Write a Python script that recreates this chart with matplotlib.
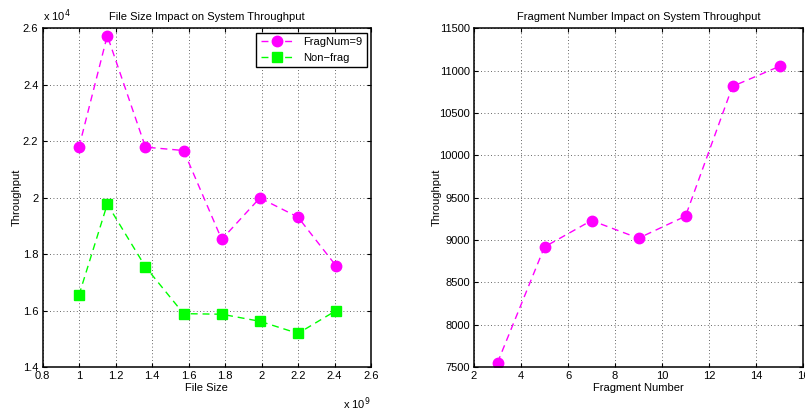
import matplotlib
matplotlib.use("Agg")
import matplotlib.pyplot as plt
from matplotlib.ticker import FuncFormatter

plt.rcParams['font.family'] = ['Liberation Sans Narrow', 'Liberation Sans', 'DejaVu Sans']

# left panel: file size vs throughput
file_size = [1.0e9, 1.155e9, 1.364e9, 1.573e9, 1.782e9, 1.991e9, 2.2e9, 2.409e9]
frag9_tp = [21790, 25740, 21790, 21670, 18520, 19990, 19310, 17580]
nonfrag_tp = [16550, 19770, 17550, 15890, 15870, 15620, 15190, 16000]

# right panel: fragment number vs throughput
frag_num = [3, 5, 7, 9, 11, 13, 15]
frag_tp = [7551, 8918, 9230, 9021, 9281, 10814, 11051]

left_xticks = [0.8e9, 1.0e9, 1.2e9, 1.4e9, 1.6e9, 1.8e9, 2.0e9, 2.2e9, 2.4e9, 2.6e9]
left_yticks = [14000, 16000, 18000, 20000, 22000, 24000, 26000]
right_xticks = [2, 4, 6, 8, 10, 12, 14, 16]
right_yticks = [7500, 8000, 8500, 9000, 9500, 10000, 10500, 11000, 11500]

MAG = '#ff00ff'
GRN = '#00ff00'
FS = 8
DASH = (0, (5, 3.5))


def style_axes(ax):
    ax.grid(True, linestyle=(0, (1, 3)), color='black', linewidth=0.6, alpha=0.8)
    ax.tick_params(direction='in', top=True, right=True, labelsize=FS, length=3, width=0.8, pad=3)
    for s in ax.spines.values():
        s.set_linewidth(1.1)


fig = plt.figure(figsize=(8.05, 4.13), dpi=100)
W, H = 805, 413

ax1 = fig.add_axes([42.5 / W, (H - 367) / H, (371 - 42.5) / W, (367 - 28.3) / H])
ax1.plot(file_size, frag9_tp, linestyle=DASH, color=MAG, marker='o', markersize=7.5, lw=1, label='FragNum=9')
ax1.plot(file_size, nonfrag_tp, linestyle=DASH, color=GRN, marker='s', markersize=6.5, lw=1, label='Non\u2212frag')
ax1.set_xlim(0.8e9, 2.6e9)
ax1.set_ylim(14000, 26000)
ax1.set_xticks(left_xticks)
ax1.set_yticks(left_yticks)
ax1.xaxis.set_major_formatter(FuncFormatter(lambda v, p: '%g' % round(v / 1e9, 2)))
ax1.yaxis.set_major_formatter(FuncFormatter(lambda v, p: '%g' % round(v / 1e4, 2)))
style_axes(ax1)
ax1.set_title('File Size Impact on System Throughput', fontsize=FS, pad=6)
ax1.set_xlabel('File Size', fontsize=FS, labelpad=1)
ax1.set_ylabel('Throughput', fontsize=FS, labelpad=1)
ax1.text(0.0, 1.012, 'x 10$^4$', transform=ax1.transAxes, fontsize=FS, ha='left', va='bottom')
ax1.text(1.0, -0.085, 'x 10$^9$', transform=ax1.transAxes, fontsize=FS, ha='right', va='top')
leg = ax1.legend(loc='upper right', fontsize=FS, frameon=True, fancybox=False,
                 borderaxespad=0.4, handlelength=3, edgecolor='black', framealpha=1)
leg.get_frame().set_linewidth(1.0)

ax2 = fig.add_axes([474 / W, (H - 367) / H, (803 - 474) / W, (367 - 28.3) / H])
ax2.plot(frag_num, frag_tp, linestyle=DASH, color=MAG, marker='o', markersize=7.5, lw=1)
ax2.set_xlim(2, 16)
ax2.set_ylim(7500, 11500)
ax2.set_xticks(right_xticks)
ax2.set_yticks(right_yticks)
style_axes(ax2)
ax2.set_title('Fragment Number Impact on System Throughput', fontsize=FS, pad=6)
ax2.set_xlabel('Fragment Number', fontsize=FS, labelpad=1)
ax2.set_ylabel('Throughput', fontsize=FS, labelpad=-2)

fig.savefig('out.png', dpi=100)
